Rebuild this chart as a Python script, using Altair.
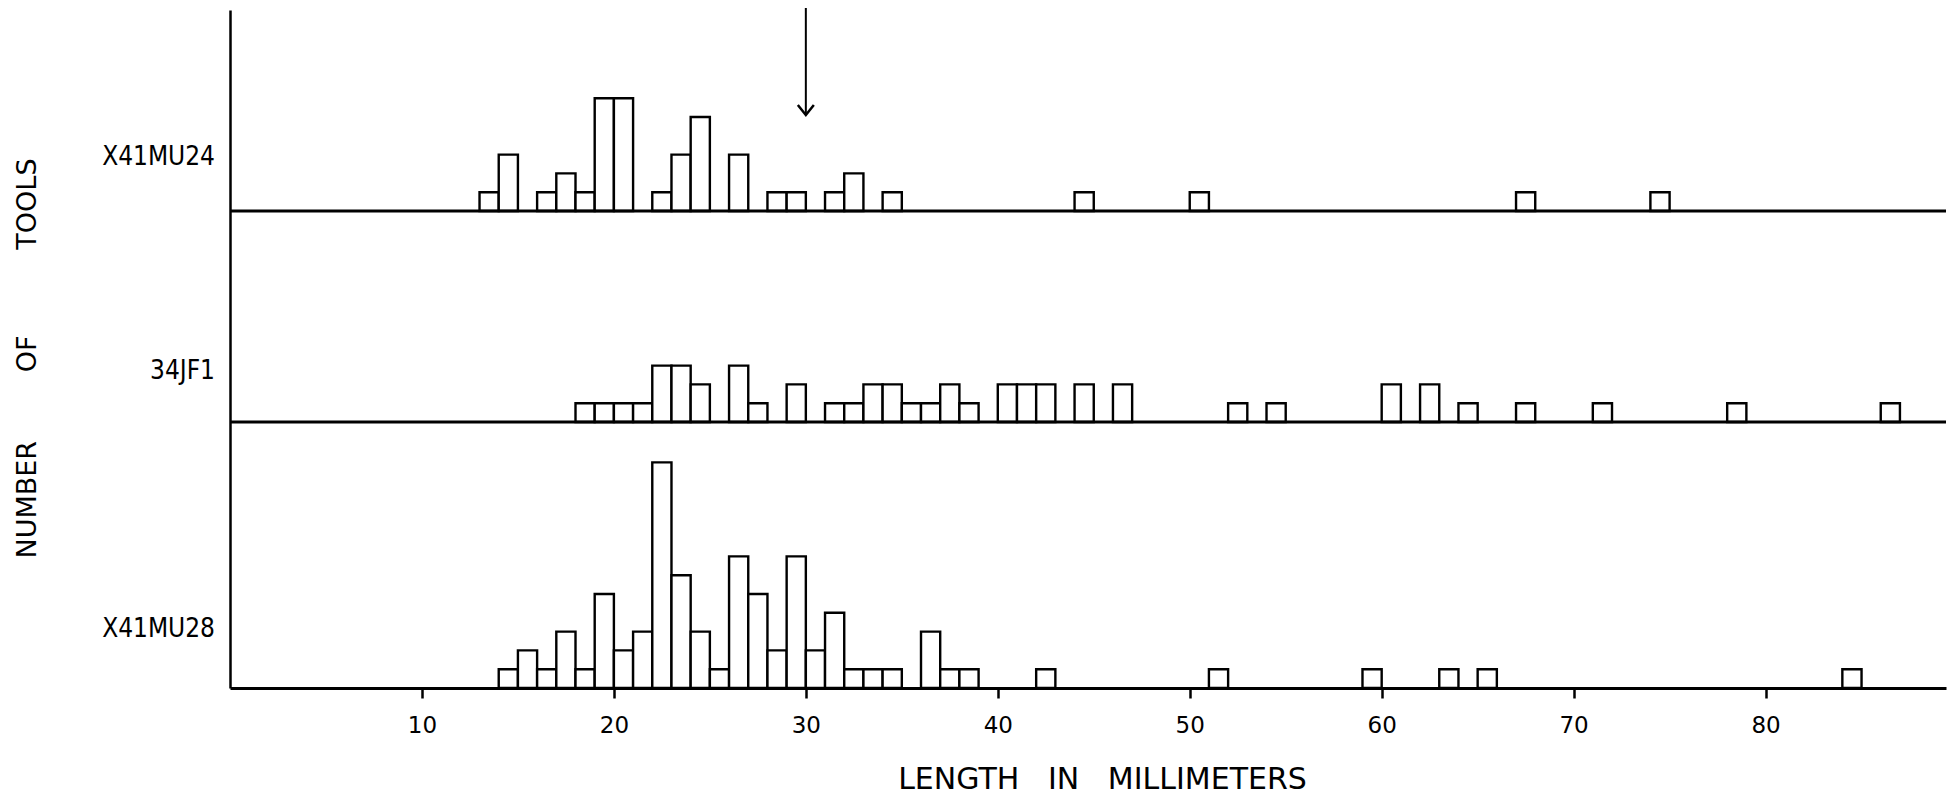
import altair as alt
import pandas as pd

# ---- data (length bin start in mm, number of tools) ----
tools = ["X41MU24", "34JF1", "X41MU28"]

top_len = [13, 14, 16, 17, 18, 19, 20, 22, 23, 24, 26, 28, 29, 31, 32, 34, 44, 50, 67, 74]
top_cnt = [1, 3, 1, 2, 1, 6, 6, 1, 3, 5, 3, 1, 1, 1, 2, 1, 1, 1, 1, 1]

mid_len = [18, 19, 20, 21, 22, 23, 24, 26, 27, 29, 31, 32, 33, 34, 35, 36, 37, 38,
           40, 41, 42, 44, 46, 52, 54, 60, 62, 64, 67, 71, 78, 86]
mid_cnt = [1, 1, 1, 1, 3, 3, 2, 3, 1, 2, 1, 1, 2, 2, 1, 1, 2, 1,
           2, 2, 2, 2, 2, 1, 1, 2, 2, 1, 1, 1, 1, 1]

bot_len = [14, 15, 16, 17, 18, 19, 20, 21, 22, 23, 24, 25, 26, 27, 28, 29, 30, 31,
           32, 33, 34, 36, 37, 38, 42, 51, 59, 63, 65, 84]
bot_cnt = [1, 2, 1, 3, 1, 5, 2, 3, 12, 6, 3, 1, 7, 5, 2, 7, 2, 4,
           1, 1, 1, 3, 1, 1, 1, 1, 1, 1, 1, 1]

x_ticks = [10, 20, 30, 40, 50, 60, 70, 80]
arrow_at = 30

# ---- layout (pixels) ----
PLOT_W = 1716
PLOT_H = 678
UNIT = 18.8                      # px per tool
X_MAX = 89.4
Y_MAX = PLOT_H / UNIT
PAGE_BOTTOM = 688                # page y of lowest baseline
base_page_y = {"X41MU24": 211, "34JF1": 422, "X41MU28": 688}
label_page_y = {"X41MU24": 157, "34JF1": 371, "X41MU28": 629}
FONT = "DejaVu Sans"
LABEL_FONT = "'Liberation Sans Narrow', 'DejaVu Sans Condensed', 'DejaVu Sans'"
NB = "\u00a0"

def units(page_y):
    return (PAGE_BOTTOM - page_y) / UNIT

rows = []
for tool, lens, cnts in zip(tools, [top_len, mid_len, bot_len], [top_cnt, mid_cnt, bot_cnt]):
    for l, c in zip(lens, cnts):
        rows.append({"tool": tool, "length": l, "count": c, "base": units(base_page_y[tool])})
df = pd.DataFrame(rows)

panels = pd.DataFrame({
    "tool": tools,
    "base": [units(base_page_y[t]) for t in tools],
    "label_y": [units(label_page_y[t]) for t in tools],
})

x_scale = alt.Scale(domain=[0, X_MAX], nice=False, zero=False)
y_scale = alt.Scale(domain=[0, Y_MAX], nice=False, zero=False)

x_axis = alt.Axis(
    values=x_ticks, format="d", grid=False,
    domainColor="black", domainWidth=3,
    tickColor="black", tickWidth=2.5, tickSize=10,
    labelFont=FONT, labelFontSize=23, labelColor="black",
    labelBaseline="alphabetic", labelPadding=34,
    title="LENGTH" + NB * 3 + "IN" + NB * 3 + "MILLIMETERS",
    titleFont=FONT, titleFontSize=30, titleFontWeight="normal", titleColor="black",
    titleX=872, titleY=100, titleBaseline="alphabetic", titleAlign="center",
)
y_axis = alt.Axis(
    grid=False, ticks=False, labels=False,
    domainColor="black", domainWidth=2.5,
    title="NUMBER" + NB * 8 + "OF" + NB * 10 + "TOOLS",
    titleFont=FONT, titleFontSize=27, titleFontWeight="normal", titleColor="black",
    titleAngle=270, titleX=-203, titleY=348,
    titleBaseline="middle", titleAlign="center",
)

bars = alt.Chart(df).transform_calculate(
    end="datum.length + 1", top="datum.base + datum.count"
).mark_rect(fill="white", stroke="black", strokeWidth=2.4).encode(
    x=alt.X("length:Q", scale=x_scale, axis=x_axis),
    x2="end:Q",
    y=alt.Y("base:Q", scale=y_scale, axis=y_axis),
    y2="top:Q",
)

baselines = alt.Chart(panels[panels["tool"] != "X41MU28"]).transform_calculate(
    x0="0", x1=str(X_MAX)
).mark_rule(color="black", strokeWidth=3).encode(
    x=alt.X("x0:Q", scale=x_scale, axis=x_axis),
    x2="x1:Q",
    y=alt.Y("base:Q", scale=y_scale, axis=y_axis),
)

labels = alt.Chart(panels).mark_text(
    align="right", baseline="middle", font=LABEL_FONT, fontSize=26, color="black"
).encode(
    x=alt.value(-15),
    y=alt.Y("label_y:Q", scale=y_scale, axis=y_axis),
    text="tool:N",
)

arrow_df = pd.DataFrame({"at": [arrow_at]})
arrow_line = alt.Chart(arrow_df).mark_rule(color="black", strokeWidth=2).encode(
    x=alt.X("at:Q", scale=x_scale, axis=x_axis),
    y=alt.value(-2),
    y2=alt.value(104),
)
arrow_head = alt.Chart(arrow_df).mark_point(
    shape="M-1,-1.25L0,0L1,-1.25", size=256, filled=False,
    color="black", strokeWidth=2.5, opacity=1
).encode(
    x=alt.X("at:Q", scale=x_scale, axis=x_axis),
    y=alt.value(105),
)

chart = alt.layer(bars, baselines, labels, arrow_line, arrow_head).properties(
    width=PLOT_W, height=PLOT_H,
    autosize=alt.AutoSizeParams(type="none"),
    padding={"left": 222, "top": 2, "right": 5, "bottom": 106},
    background="white",
).configure_view(stroke=None)

chart.save("out.html", embed_options={"renderer": "svg", "actions": False})
